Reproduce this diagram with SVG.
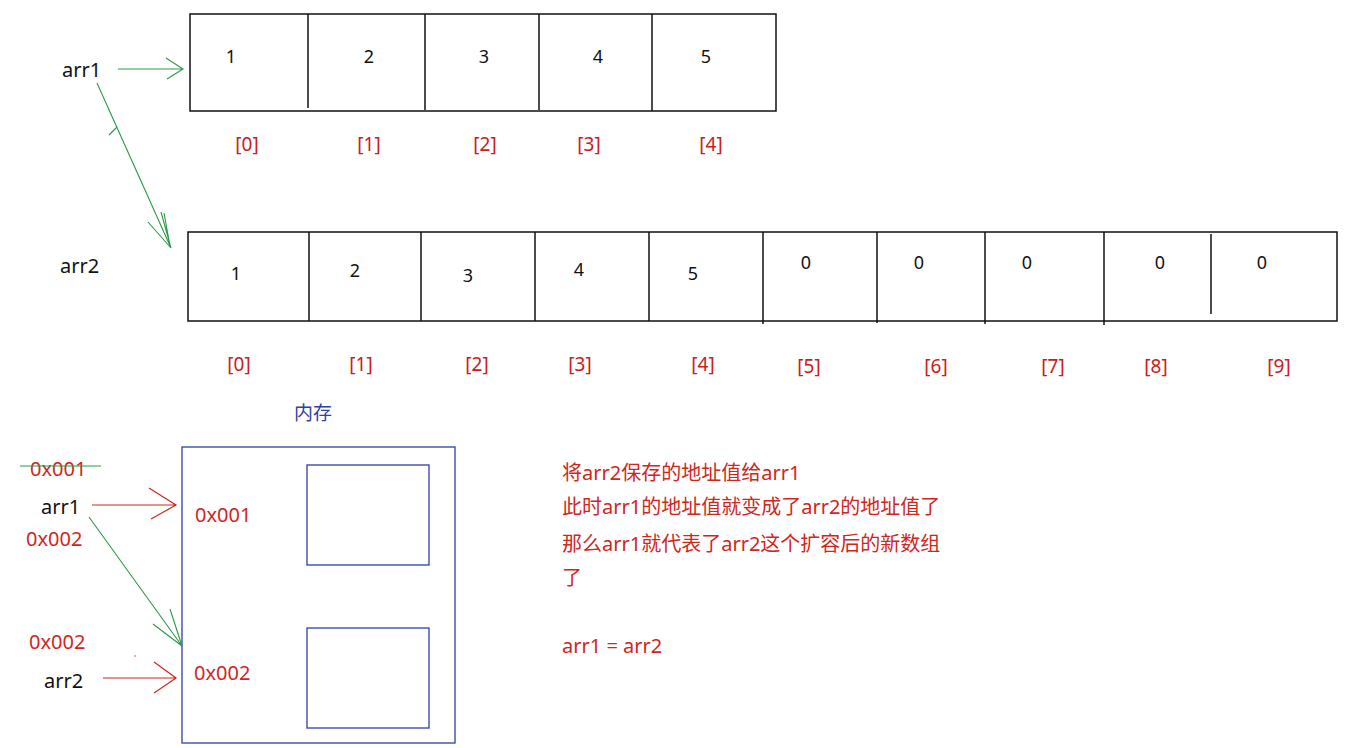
<svg xmlns="http://www.w3.org/2000/svg" width="1361" height="748" viewBox="0 0 1361 748">
<style>
text{font-family:"Noto Sans","Noto Sans CJK SC",sans-serif;}
.blk{fill:#111;font-size:20px;}
.num{fill:#111;font-size:18px;text-anchor:middle;}
.idx{fill:#c8201c;font-size:19px;text-anchor:middle;}
.red{fill:#d0261c;font-size:20px;}
.note{fill:#d0261c;font-size:20px;}
.box{fill:none;stroke:#111;stroke-width:1.5;}
.div{stroke:#111;stroke-width:1.5;}
.mem{fill:none;stroke:#2e3fa6;stroke-width:1.3;}
.g{stroke:#2a9a48;stroke-width:1.1;fill:none;}
.r{stroke:#d0261c;stroke-width:1.2;fill:none;}
</style>
<rect width="1361" height="748" fill="#fff"/>

<g id="arr1-array">
<rect class="box" x="190" y="14" width="586" height="97"/>
<line class="div" x1="308" y1="14" x2="308" y2="108"/>
<line class="div" x1="425" y1="14" x2="425" y2="110"/>
<line class="div" x1="539" y1="14" x2="539" y2="110"/>
<line class="div" x1="652" y1="14" x2="652" y2="111"/>
<text class="num" x="231" y="63">1</text>
<text class="num" x="369" y="63">2</text>
<text class="num" x="484" y="63">3</text>
<text class="num" x="598" y="63">4</text>
<text class="num" x="706" y="63">5</text>
<text class="idx" x="247" y="151">[0]</text>
<text class="idx" x="369" y="151">[1]</text>
<text class="idx" x="485" y="151">[2]</text>
<text class="idx" x="589" y="151">[3]</text>
<text class="idx" x="711" y="151">[4]</text>
</g>

<g id="arr2-array">
<rect class="box" x="188" y="232" width="1149" height="89"/>
<line class="div" x1="309" y1="232" x2="309" y2="321"/>
<line class="div" x1="421" y1="232" x2="421" y2="321"/>
<line class="div" x1="535" y1="232" x2="535" y2="321"/>
<line class="div" x1="649" y1="232" x2="649" y2="321"/>
<line class="div" x1="763" y1="232" x2="763" y2="324"/>
<line class="div" x1="877" y1="232" x2="877" y2="323"/>
<line class="div" x1="985" y1="232" x2="985" y2="324"/>
<line class="div" x1="1104" y1="232" x2="1104" y2="325"/>
<line class="div" x1="1211" y1="234" x2="1211" y2="314"/>
<text class="num" x="236" y="280">1</text>
<text class="num" x="355" y="277">2</text>
<text class="num" x="468" y="282">3</text>
<text class="num" x="579" y="276">4</text>
<text class="num" x="693" y="280">5</text>
<text class="num" x="806" y="269">0</text>
<text class="num" x="919" y="269">0</text>
<text class="num" x="1027" y="269">0</text>
<text class="num" x="1160" y="269">0</text>
<text class="num" x="1262" y="269">0</text>
<text class="idx" x="239" y="371">[0]</text>
<text class="idx" x="361" y="371">[1]</text>
<text class="idx" x="477" y="371">[2]</text>
<text class="idx" x="580" y="371">[3]</text>
<text class="idx" x="703" y="371">[4]</text>
<text class="idx" x="809" y="373">[5]</text>
<text class="idx" x="936" y="373">[6]</text>
<text class="idx" x="1053" y="373">[7]</text>
<text class="idx" x="1156" y="373">[8]</text>
<text class="idx" x="1279" y="373">[9]</text>
</g>

<g id="labels-top">
<text class="blk" x="62" y="77">arr1</text>
<text class="blk" x="60" y="273">arr2</text>
</g>

<g id="memory">
<text x="294" y="420" style="fill:#2e3fa6;font-size:19px;">内存</text>
<rect class="mem" x="182" y="447" width="273" height="296"/>
<rect class="mem" x="307" y="465" width="122" height="100"/>
<rect class="mem" x="307" y="628" width="122" height="100"/>
<text class="red" x="195" y="522">0x001</text>
<text class="red" x="194" y="680">0x002</text>
</g>

<g id="labels-bottom">
<text class="red" x="30" y="476">0x001</text>
<text class="blk" x="41" y="514">arr1</text>
<text class="red" x="26" y="546">0x002</text>
<text class="red" x="29" y="649">0x002</text>
<text class="blk" x="44" y="688">arr2</text>
<circle cx="135" cy="656" r="0.7" fill="#d0261c"/>
</g>

<g id="note">
<text class="note" x="562" y="480">将arr2保存的地址值给arr1</text>
<text class="note" x="562" y="514">此时arr1的地址值就变成了arr2的地址值了</text>
<text class="note" x="562" y="551">那么arr1就代表了arr2这个扩容后的新数组</text>
<text class="note" x="562" y="585">了</text>
<text class="note" x="562" y="653">arr1 = arr2</text>
</g>

<g id="connectors">
<line class="g" x1="20" y1="466" x2="101" y2="466"/>
<path class="g" d="M118 69 H183 M166 58 L183 69 L167 79"/>
<path class="g" d="M97 83 L171 248 M117 127 L109 135 M148 222 L171 248 M161 212 L171 248 M164 213 L170 246"/>
<path class="r" d="M92 505 H176 M149 488 L176 505 L151 519"/>
<path class="g" d="M89 517 L182 646 M153 624 L182 646 M170 609 L182 646"/>
<path class="r" d="M103 678 H176 M154 662 L176 678 L154 693"/>
</g>
</svg>
